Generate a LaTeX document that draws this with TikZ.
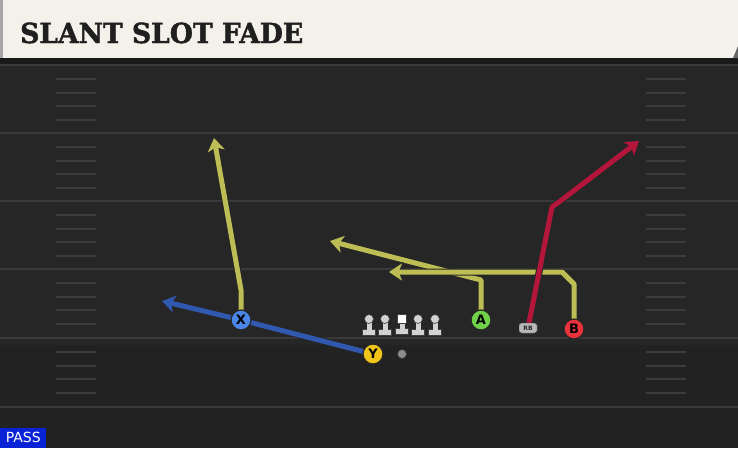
\documentclass[tikz,border=0pt]{standalone}
\usepackage{fontspec}
\setmainfont{DejaVu Sans}
\newfontfamily\titlefont[FakeBold=1.6]{DejaVu Serif}
\usetikzlibrary{arrows.meta}
\definecolor{fieldbg}{HTML}{262626}
\definecolor{fieldlow}{HTML}{222222}
\definecolor{headbg}{HTML}{F4F1EA}
\definecolor{yardc}{HTML}{3A3A3A}
\definecolor{hashc}{HTML}{3C3C3C}
\definecolor{routey}{HTML}{BDBD55}
\definecolor{router}{HTML}{B3163A}
\definecolor{routeb}{HTML}{2F58AE}
\definecolor{plx}{HTML}{4A86E8}
\definecolor{ply}{HTML}{F0C419}
\definecolor{pla}{HTML}{6FD14A}
\definecolor{plb}{HTML}{E8333B}
\definecolor{passblue}{HTML}{0A22D6}
\definecolor{olc}{HTML}{D2D2D2}
\tikzset{
  yard/.style={draw=yardc,line width=2pt},
  hashmark/.style={draw=hashc,line width=1.5pt},
  route/.style={line width=5pt,line join=round,
     -{Stealth[length=13pt,width=17pt,inset=3.5pt]},
     preaction={draw=black!85,line width=7pt,line join=round,
       -{Stealth[length=14.5pt,width=20pt,inset=4pt]}}},
  player/.style={circle,draw=black!85,line width=1.2pt,minimum size=20pt,inner sep=0pt,
     font=\bfseries\fontsize{13}{13}\selectfont,text=black},
  rbbox/.style={draw=black!80,fill=black!28,rounded corners=2.5pt,minimum width=18pt,minimum height=10pt,
     inner sep=0pt,font=\bfseries\fontsize{6}{6}\selectfont,text=black!85},
}
\begin{document}
\begin{tikzpicture}[x=1pt,y=-1pt]
\useasboundingbox (0,0) rectangle (738,448);
\fill[fieldbg] (0,0) rectangle (738,448);
\fill[fieldlow] (0,345) rectangle (738,448);
% header
\fill[black!90] (0,58) rectangle (738,65);
\fill[headbg] (0,0) rectangle (738,58);
\fill[black!35] (0,0) rectangle (3,58);
\fill[black!60] (738,46) -- (738,58) -- (733,58) -- cycle;
\node[anchor=base west,inner sep=0pt,text=black!88] (title) at (20,43)
  {\resizebox{283pt}{20.5pt}{\titlefont\bfseries\fontsize{26}{26}\selectfont SLANT SLOT FADE}};
% yard lines
\foreach \yy in {65,133,201,269,338,407} \draw[yard] (0,\yy) -- (738,\yy);
% hash marks
\foreach \yb in {65,133,201,269,338} {
  \foreach \o in {14,28,41,55} {
    \draw[hashmark] (56,\yb+\o) -- (96,\yb+\o);
    \draw[hashmark] (646,\yb+\o) -- (686,\yb+\o);
  }
}
% players
\node[player,fill=plx] (X) at (241,320) {X};
\node[player,fill=ply] (Y) at (373,354) {Y};
\node[player,fill=pla] (A) at (481,320) {A};
\node[player,fill=plb] (B) at (574,329) {B};
\node[rbbox] (RB) at (528,328) {RB};
\node[circle,fill=black!45,draw=black!80,line width=0.5pt,minimum size=9pt,inner sep=0pt] (ball) at (402,354) {};
% linemen
\foreach \n/\xx in {LT/369,LG/385,RG/418,RT/435} {
  \coordinate (\n) at (\xx,327);
  \fill[olc,draw=black!75,line width=0.6pt] (\xx-6.5,329.5) rectangle (\xx+6.5,335);
  \fill[olc] (\xx-2.5,321) rectangle (\xx+2.5,330);
  \fill[olc,draw=black!75,line width=0.6pt] (\xx,319) circle (4.5);
}
\coordinate (C) at (402,327);
\fill[olc,draw=black!75,line width=0.6pt] (395.5,328.5) rectangle (408.5,334);
\fill[olc] (399.5,321) rectangle (404.5,329);
\fill[white,draw=black!75,line width=0.6pt] (397.5,314) rectangle (406.5,323);
% route end points
\coordinate (xe) at (214,138);
\coordinate (xb) at (241,290);
\coordinate (be) at (162,301);
\coordinate (ae) at (330,241);
\coordinate (ab) at (481,280);
\coordinate (bb) at (574,284);
\coordinate (bc) at (562,272);
\coordinate (bend) at (389,272);
\coordinate (rbb) at (552,207);
\coordinate (rbc) at (559,202);
\coordinate (rbe) at (639,141);
% routes
\draw[route,routeb] (Y.center) -- (X.center) -- (be);
\draw[route,routey] (X.center) -- (xb) -- (xe);
\draw[route,routey] (A.center) -- (ab) -- (ae);
\draw[route,routey] (B.center) -- (bb) -- (bc) -- (bend);
\draw[route,router] (RB.center) -- (rbb) -- (rbc) -- (rbe);
% redraw players on top
\node[player,fill=plx] at (X) {X};
\node[player,fill=ply] at (Y) {Y};
\node[player,fill=pla] at (A) {A};
\node[player,fill=plb] at (B) {B};
\node[rbbox] at (RB) {RB};
% PASS label
\node[fill=passblue,text=white,anchor=south west,inner xsep=4pt,inner ysep=2pt,
  minimum height=20pt,minimum width=46pt,font=\fontsize{14}{14}\selectfont] (pass) at (0,448) {PASS};
\end{tikzpicture}
\end{document}
